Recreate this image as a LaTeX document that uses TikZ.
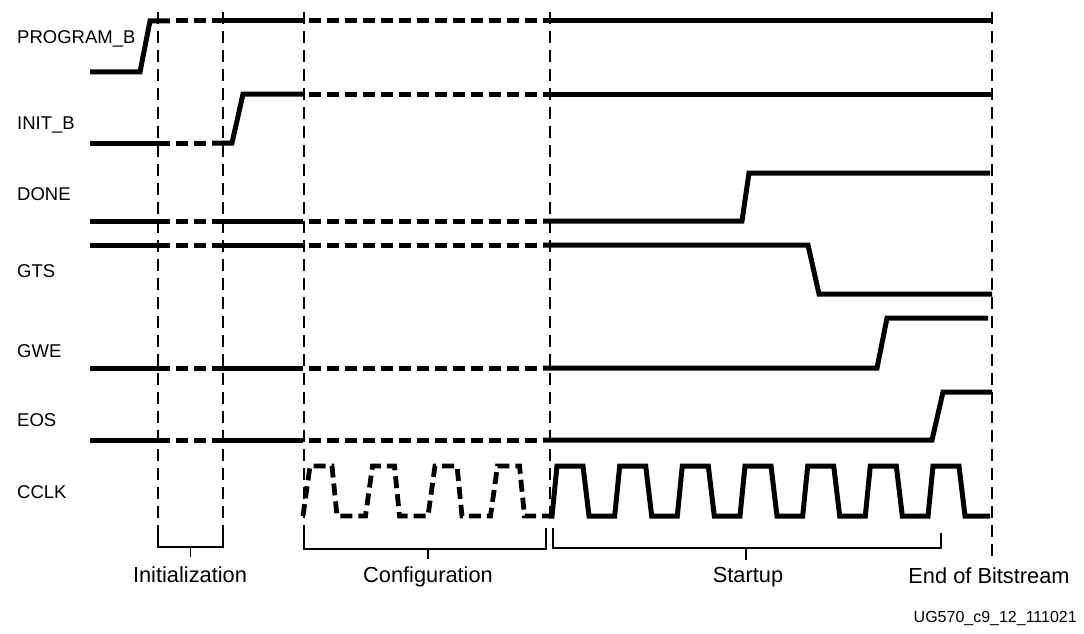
\documentclass[tikz,border=0pt]{standalone}
\usepackage{fontspec}
\setmainfont{Liberation Sans}
\begin{document}
\begin{tikzpicture}[x=1pt,y=-1pt,
    wave/.style={line width=5pt},
    wavedash/.style={line width=5pt, dash pattern=on 12pt off 6pt, dash phase=12pt},
    clkdash/.style={line width=4.8pt, dash pattern=on 12pt off 6pt},
    marker/.style={line width=1.4pt, dash pattern=on 12pt off 7pt},
    bracket/.style={line width=1.3pt},
    siglabel/.style={anchor=base west, inner sep=0pt, font=\fontsize{18.5}{22}\selectfont},
    phaselabel/.style={anchor=base, inner sep=0pt, font=\fontsize{21.8}{26}\selectfont}]

            \useasboundingbox (0,0) rectangle (1084,634);

            % Signal names
            \node[siglabel] (progb) at (17,44) {PROGRAM\_B};
            \node[siglabel] (initb) at (17,129) {INIT\_B};
            \node[siglabel] (done) at (17,200) {DONE};
            \node[siglabel] (gts) at (17,277) {GTS};
            \node[siglabel] (gwe) at (17,357) {GWE};
            \node[siglabel] (eos) at (17,426) {EOS};
            \node[siglabel] (cclk) at (17,498) {CCLK};

            % Phase markers
            \foreach \x in {158,223,304} {
                    \draw[marker] (\x,12) -- (\x,528);
                }
            \draw[marker] (550,12) -- (550,520);
            \draw[marker] (992,12) -- (992,560);

            % PROGRAM_B
            \draw[wave] (90,72) -- (140,72) -- (150,21) -- (170,21);
            \draw[wavedash] (170,21) -- (212,21);
            \draw[wave] (212,21) -- (303,21);
            \draw[wavedash] (303,21) -- (543,21);
            \draw[wave] (543,21) -- (992,21);

            % INIT_B
            \draw[wave] (90,143) -- (170,143);
            \draw[wavedash] (170,143) -- (212,143);
            \draw[wave] (212,143) -- (232,143) -- (243,94) -- (303,94);
            \draw[wavedash] (303,94) -- (543,94);
            \draw[wave] (543,94) -- (992,94);

            % DONE
            \draw[wave] (90,221) -- (170,221);
            \draw[wavedash] (170,221) -- (212,221);
            \draw[wave] (212,221) -- (303,221);
            \draw[wavedash] (303,221) -- (543,221);
            \draw[wave] (543,221) -- (742,221) -- (749,173) -- (990,173);

            % GTS
            \draw[wave] (90,245) -- (170,245);
            \draw[wavedash] (170,245) -- (212,245);
            \draw[wave] (212,245) -- (303,245);
            \draw[wavedash] (303,245) -- (543,245);
            \draw[wave] (543,245) -- (808,245) -- (819,294) -- (992,294);

            % GWE
            \draw[wave] (90,368) -- (170,368);
            \draw[wavedash] (170,368) -- (212,368);
            \draw[wave] (212,368) -- (303,368);
            \draw[wavedash] (303,368) -- (543,368);
            \draw[wave] (543,368) -- (877,368) -- (887,318) -- (988,318);

            % EOS
            \draw[wave] (90,440) -- (170,440);
            \draw[wavedash] (170,440) -- (212,440);
            \draw[wave] (212,440) -- (303,440);
            \draw[wavedash] (303,440) -- (543,440);
            \draw[wave] (543,440) -- (932,440) -- (943,392) -- (992,392);

            % CCLK
            \draw[clkdash] (303,516)
                \foreach \r in {303,365.5,428,490.5} {
                    -- (\r,516) -- (\r+7,466) -- (\r+29,466) -- (\r+34,516)
                } -- (549,516);
            \draw[wave] (549,516)
                \foreach \r in {552,614.7,677.3,740,802.7,865.3,928} {
                    -- (\r,516) -- (\r+5,466) -- (\r+31,466) -- (\r+37,516)
                } -- (990,516);

            % Phase brackets
            \draw[bracket] (158,528) -- (158,547) -- (223,547) -- (223,528);
            \draw[bracket] (190.5,547) -- (190.5,557);
            \draw[bracket] (304,528) -- (304,549) -- (546,549) -- (546,528);
            \draw[bracket] (428,549) -- (428,559);
            \draw[bracket] (553,528) -- (553,548) -- (941,548) -- (941,533);
            \draw[bracket] (746,548) -- (746,560);

            % Phase names
            \node[phaselabel] (init) at (190,582) {Initialization};
            \node[phaselabel] (config) at (428,582) {Configuration};
            \node[phaselabel] (startup) at (748,582) {Startup};
            \node[phaselabel] (eob) at (989,583) {End of Bitstream};
            \node[anchor=base east, inner sep=0pt, font=\fontsize{16}{19}\selectfont] (figid) at (1077,622) {UG570\_c9\_12\_111021};
        \end{tikzpicture}
\end{document}
